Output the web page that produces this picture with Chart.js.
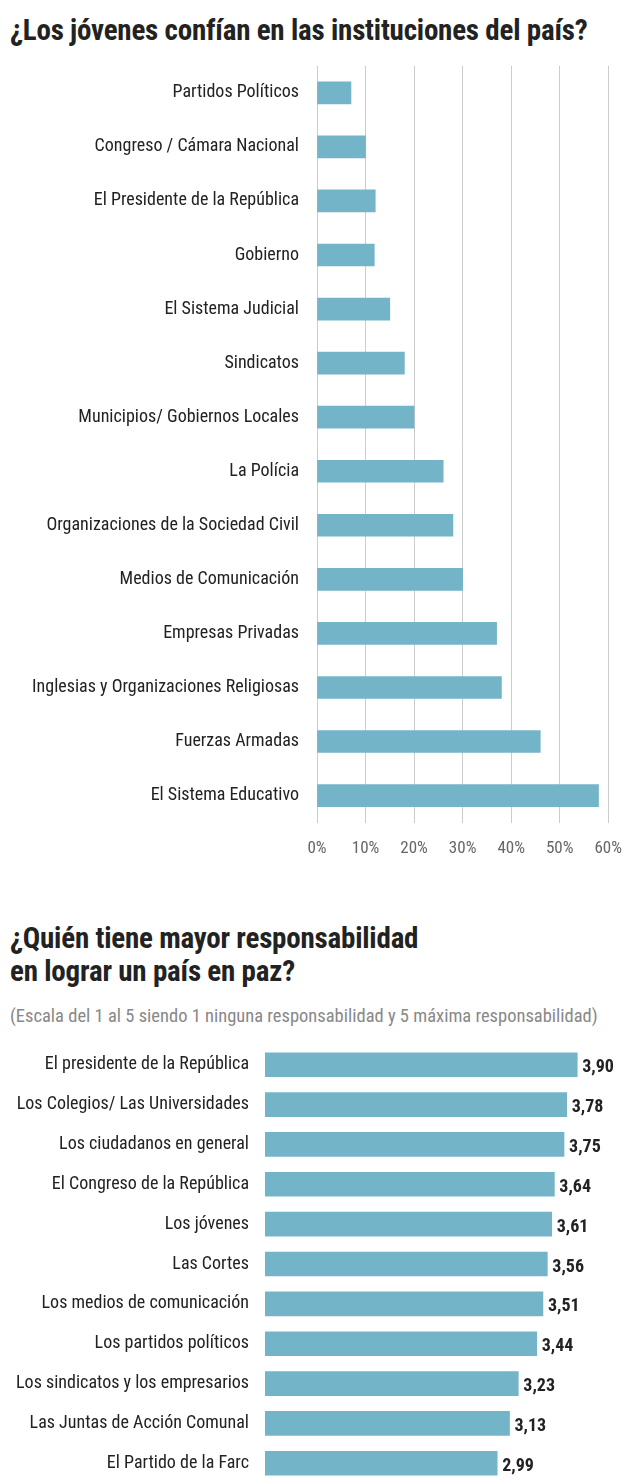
<!DOCTYPE html><html><head><meta charset="utf-8">
<script src="https://cdn.jsdelivr.net/npm/chart.js@4"></script>
<style>
body{margin:0;width:638px;height:1484px;background:#fff;font-family:"Liberation Sans Narrow","Roboto Condensed",Roboto,sans-serif;color:#222;position:relative;overflow:hidden}
h1{position:absolute;margin:0;font-size:29px;font-weight:bold;left:10px;line-height:33px;letter-spacing:-0.2px}
.sub{position:absolute;left:10px;top:1005px;font-size:18.5px;color:#888}
.c{position:absolute;left:0}
</style></head><body>
<h1 style="top:14px">¿Los jóvenes confían en las instituciones del país?</h1>
<div class="c" style="top:45px;width:638px;height:830px"><canvas id="c1"></canvas></div>
<h1 style="top:922px">¿Quién tiene mayor responsabilidad<br>en lograr un país en paz?</h1>
<div class="sub">(Escala del 1 al 5 siendo 1 ninguna responsabilidad y 5 máxima responsabilidad)</div>
<div class="c" style="top:1026px;width:638px;height:476px"><canvas id="c2"></canvas></div>
<script>
const instituciones=["Partidos Políticos","Congreso / Cámara Nacional","El Presidente de la República","Gobierno","El Sistema Judicial","Sindicatos","Municipios/ Gobiernos Locales","La Polícia","Organizaciones de la Sociedad Civil","Medios de Comunicación","Empresas Privadas","Inglesias y Organizaciones Religiosas","Fuerzas Armadas","El Sistema Educativo"];
const confianza=[7,10,12,11.8,15,18,20,26,28,30,37,38,46,58];
const actores=["El presidente de la República","Los Colegios/ Las Universidades","Los ciudadanos en general","El Congreso de la República","Los jóvenes","Las Cortes","Los medios de comunicación","Los partidos políticos","Los sindicatos y los empresarios","Las Juntas de Acción Comunal","El Partido de la Farc"];
const responsabilidad=[3.90,3.78,3.75,3.64,3.61,3.56,3.51,3.44,3.23,3.13,2.99];
const FONT='"Liberation Sans Narrow","Roboto Condensed",Roboto,sans-serif';
const BAR='#74b4c8';
Chart.defaults.font.family=FONT;Chart.defaults.color='#222';
new Chart(document.getElementById('c1'),{type:'bar',
data:{labels:instituciones,datasets:[{data:confianza,backgroundColor:BAR,barThickness:22}]},
options:{indexAxis:'y',responsive:true,maintainAspectRatio:false,animation:false,
layout:{padding:{top:4,right:15,left:0,bottom:0}},
plugins:{legend:{display:false},tooltip:{enabled:false}},
scales:{x:{min:0,max:60,ticks:{stepSize:10,callback:v=>v+'%',color:'#666',font:{size:17},padding:16},grid:{color:'#ccc',drawTicks:false},border:{display:false}},
y:{grid:{display:false},border:{display:false},ticks:{font:{size:18},color:'#222',padding:10},afterFit:s=>{s.width=317}}}}});
new Chart(document.getElementById('c2'),{type:'bar',
data:{labels:actores,datasets:[{data:responsabilidad,backgroundColor:BAR,barThickness:24}]},
options:{indexAxis:'y',responsive:true,maintainAspectRatio:false,animation:false,
layout:{padding:{top:4,right:8,left:0,bottom:0}},
plugins:{legend:{display:false},tooltip:{enabled:false}},
scales:{x:{display:false,min:0.35,max:4.5},
y:{grid:{display:false},border:{display:false},ticks:{font:{size:18},color:'#222',padding:8},afterFit:s=>{s.width=265}}}},
plugins:[{id:'vals',afterDatasetsDraw(c){const ctx=c.ctx;ctx.save();ctx.font='bold 18px '+FONT;ctx.fillStyle='#222';ctx.textBaseline='middle';
c.getDatasetMeta(0).data.forEach((b,i)=>{ctx.fillText(responsabilidad[i].toFixed(2).replace('.',','),b.x+5,b.y+3)});ctx.restore();}}]});
</script></body></html>
